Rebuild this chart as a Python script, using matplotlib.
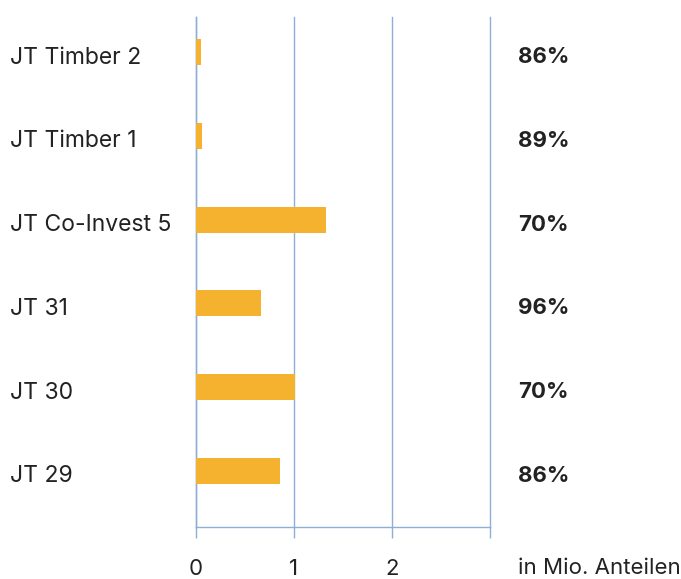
import matplotlib
matplotlib.use("Agg")
import matplotlib.pyplot as plt
from matplotlib import transforms

categories = ["JT 29", "JT 30", "JT 31", "JT Co-Invest 5", "JT Timber 1", "JT Timber 2"]
values = [0.86, 1.01, 0.665, 1.33, 0.065, 0.055]
percent_labels = ["86%", "70%", "96%", "70%", "89%", "86%"]
x_ticks = [0, 1, 2, 3]
x_tick_labels = ["0", "1", "2", ""]
unit_label = "in Mio. Anteilen"

plt.rcParams['font.family'] = ['Inter', 'DejaVu Sans']

W, H = 681, 579
fig = plt.figure(figsize=(W / 100, H / 100), dpi=100)
left, right = 195.7 / W, 490.3 / W
bottom, top = (H - 527.3) / H, (H - 17) / H
ax = fig.add_axes([left, bottom, right - left, top - bottom])

bar_color = "#f4b22e"
grid_color = "#8eaed8"
text_color = "#222222"

y = list(range(len(categories)))
ax.barh(y, values, height=0.31, color=bar_color, zorder=3)

ax.set_xlim(0, 3)
ax.set_ylim(-0.672, 5.418)

ax.set_xticks(x_ticks)
ax.set_xticklabels(x_tick_labels)
ax.xaxis.grid(True, color=grid_color, linewidth=1.0, zorder=0)
for gl in ax.get_xgridlines():
    gl.set_clip_on(False)
ax.tick_params(axis='x', direction='out', length=8, width=1.0, color=grid_color,
               labelsize=16, labelcolor=text_color, pad=15)

ax.set_yticks(y)
ax.set_yticklabels(categories)
ax.tick_params(axis='y', length=0, pad=185.7 * 0.72, labelsize=16.5, labelcolor=text_color)
for lbl in ax.get_yticklabels():
    lbl.set_horizontalalignment('left')
    lbl.set_verticalalignment('center_baseline')
    lbl.set_transform(lbl.get_transform() + transforms.ScaledTranslation(0, -3 / 100, fig.dpi_scale_trans))

for s in ["top", "right"]:
    ax.spines[s].set_visible(False)
for s in ["left", "bottom"]:
    ax.spines[s].set_color(grid_color)
    ax.spines[s].set_linewidth(1.0)

trans = transforms.blended_transform_factory(ax.transAxes, ax.transData)
trans_txt = trans + transforms.ScaledTranslation(0, -3 / 100, fig.dpi_scale_trans)
xpos = (518 - 195.7) / (490.3 - 195.7)
for yi, p in zip(y, percent_labels):
    ax.text(xpos, yi, p, transform=trans_txt, ha='left', va='center_baseline',
            fontsize=16, fontweight='bold', color=text_color)

ax.text(xpos, (527.3 - 568) / (527.3 - 17), unit_label, transform=ax.transAxes,
        ha='left', va='center', fontsize=16, color=text_color)

fig.savefig("out.png", dpi=100)
